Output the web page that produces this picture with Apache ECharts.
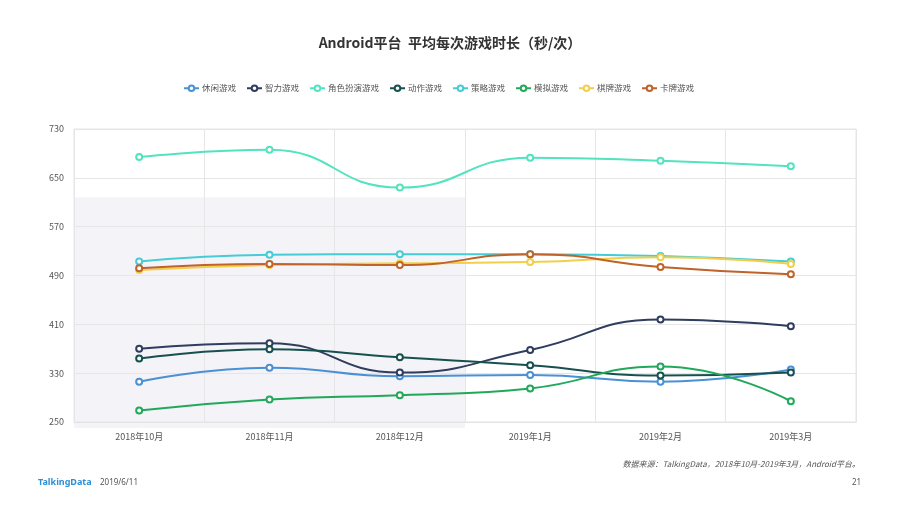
<!DOCTYPE html>
<html><head><meta charset="utf-8">
<script src="https://cdn.jsdelivr.net/npm/echarts@6/dist/echarts.min.js"></script>
<style>html,body{margin:0;padding:0;background:#fff;}#c{width:900px;height:505px;}</style>
</head><body><div id="c"></div>
<script>
const categories = ['2018年10月','2018年11月','2018年12月','2019年1月','2019年2月','2019年3月'];
const seriesNames = ['休闲游戏','智力游戏','角色扮演游戏','动作游戏','策略游戏','模拟游戏','棋牌游戏','卡牌游戏'];
const casual   = [316, 339, 325, 327, 316, 336];
const puzzle   = [370, 379, 331, 368, 418, 407];
const rpg      = [684, 696, 634, 683, 678, 669];
const action   = [354, 369, 356, 343, 326, 331];
const strategy = [513, 524, 525, 525, 522, 513];
const simulation = [269, 287, 294, 305, 341, 284];
const board    = [499, 507, 510, 512, 520, 509];
const card     = [502, 509, 507, 525, 504, 492];
const yTicks = [250, 330, 410, 490, 570, 650, 730];
const colors = ['#4a90d4','#2f3d5e','#52e3bf','#17514f','#45ccd6','#22a85a','#f2cf4a','#bf6328'];
const allData = [casual, puzzle, rpg, action, strategy, simulation, board, card];

const chart = echarts.init(document.getElementById('c'));
chart.setOption({
  animation: false,
  color: colors,
  title: {
    text: 'Android平台  平均每次游戏时长（秒/次）',
    left: 'center', top: 31,
    textStyle: {fontSize: 14, fontWeight: 'bold', color: '#333', fontFamily: 'Noto Sans CJK SC'}
  },
  legend: {
    top: 79, left: 178,
    itemWidth: 15, itemHeight: 7, itemGap: 10,
    textStyle: {fontSize: 8.5, color: '#555', fontFamily: 'Noto Sans CJK SC', padding: [0,0,0,-2]},
    data: seriesNames
  },
  grid: {left: 74, right: 44, top: 129, bottom: 83, show: true, borderColor: '#e4e4e4', borderWidth: 1},
  xAxis: {
    type: 'category', data: categories, boundaryGap: true,
    axisLine: {lineStyle: {color: '#e4e4e4'}},
    axisTick: {show: false},
    axisLabel: {fontSize: 9, color: '#555', margin: 10, fontFamily: 'Noto Sans CJK SC'},
    splitLine: {show: true, lineStyle: {color: '#e6e6e6'}}
  },
  yAxis: {
    type: 'value', min: yTicks[0], max: yTicks[yTicks.length-1], interval: 80,
    axisLine: {show: false}, axisTick: {show: false},
    axisLabel: {fontSize: 9, color: '#555', margin: 10, align: 'right', fontFamily: 'Noto Sans CJK SC'},
    splitLine: {lineStyle: {color: '#e6e6e6'}}
  },
  series: seriesNames.map((n, i) => ({
    name: n, type: 'line', smooth: true, data: allData[i],
    symbol: 'emptyCircle', symbolSize: 6,
    lineStyle: {width: 2},
    itemStyle: {borderWidth: 2}
  })),
  graphic: [
    {type: 'text', right: 40, top: 460, z: 10,
     style: {text: '数据来源：TalkingData，2018年10月-2019年3月，Android平台。', fill: '#555', font: 'italic 8px "Noto Sans CJK SC"'}},
    {type: 'text', left: 38, top: 478, style: {text: 'TalkingData', fill: '#2d8fd5', font: 'bold 9px "Noto Sans"'}},
    {type: 'text', left: 100, top: 479, style: {text: '2019/6/11', fill: '#555', font: '8px "Noto Sans"'}},
    {type: 'text', left: 852, top: 479, style: {text: '21', fill: '#555', font: '8px "Noto Sans"'}}
  ]
});
// light shaded panel behind the first three months
const c0 = chart.convertToPixel({xAxisIndex: 0}, categories[0]);
const c1 = chart.convertToPixel({xAxisIndex: 0}, categories[1]);
const bw = c1 - c0;
const c2 = chart.convertToPixel({xAxisIndex: 0}, categories[2]);
const yTop = chart.convertToPixel({yAxisIndex: 0}, 618);
const yBot = chart.convertToPixel({yAxisIndex: 0}, 250) + 6;
const opt = chart.getOption();
const g = opt.graphic[0].elements.slice();
g.push({type: 'rect', z: -10, shape: {x: c0 - bw/2, y: yTop, width: (c2 + bw/2) - (c0 - bw/2), height: yBot - yTop},
        style: {fill: '#f4f3f7'}, silent: true});
chart.setOption({graphic: g});
</script>
</body></html>
